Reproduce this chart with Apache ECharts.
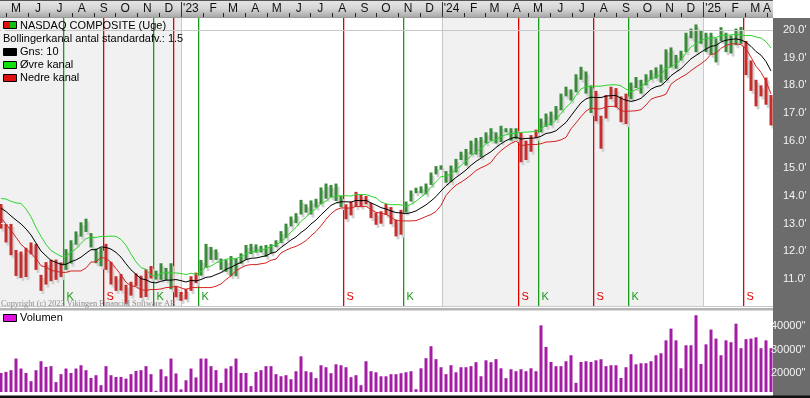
<!DOCTYPE html>
<html><head><meta charset="utf-8">
<script src="https://cdn.jsdelivr.net/npm/echarts@6/dist/echarts.min.js"></script>
<style>html,body{margin:0;padding:0;background:#fff}#c{width:810px;height:398px}</style>
</head><body><div id="c"></div><script>
// ---------------- DATA ----------------
const firstWeek = '2022-04-22';   // week ending date of first bar
const highs = [13.71,12.99,12.99,12.05,11.99,12.13,12.32,12.27,11.15,11.61,
11.70,11.70,11.60,12.08,12.40,12.72,13.05,13.18,12.66,12.10,
12.13,12.27,11.62,11.10,11.18,10.79,10.90,11.20,11.12,11.35,
11.47,11.30,11.57,11.40,11.57,10.75,10.53,10.65,11.10,11.23,
11.69,12.27,12.16,12.07,11.74,11.70,11.83,11.75,11.93,12.23,
12.27,12.25,12.20,12.23,12.26,12.40,12.73,13.00,13.26,13.38,
13.86,13.70,13.84,13.90,14.31,14.45,14.40,14.45,14.00,13.70,
13.80,14.15,14.05,14.00,13.75,13.40,13.45,13.71,13.60,13.15,
13.50,13.80,14.20,14.30,14.35,14.45,14.85,15.08,15.11,14.90,
15.10,15.34,15.60,15.70,16.00,16.10,16.13,16.30,16.45,16.30,
16.54,16.45,16.45,16.45,16.30,16.00,16.20,16.40,16.80,16.98,
17.05,17.25,17.70,17.95,17.85,18.40,18.67,18.50,18.00,17.80,
16.90,17.65,17.95,17.90,17.60,17.70,18.10,18.30,18.20,18.40,
18.55,18.65,18.75,19.30,19.37,19.10,19.25,19.90,20.05,20.20,
20.00,19.90,19.90,19.70,20.10,19.90,19.80,20.05,20.11,19.60,
18.90,18.20,18.00,18.28,17.65];
const lows = [12.82,12.32,11.86,11.11,11.04,11.07,11.89,11.33,10.57,10.80,
10.92,10.97,11.07,11.33,11.56,12.24,12.53,12.70,12.14,11.57,
11.46,11.33,10.80,10.57,10.58,10.09,10.40,10.75,10.32,10.35,
11.02,10.98,10.97,10.95,10.63,10.34,10.21,10.26,10.57,10.85,
11.12,11.40,11.69,11.69,11.33,11.26,11.10,11.10,11.55,11.70,
11.90,11.95,11.96,11.80,11.93,12.15,12.30,12.48,12.90,13.02,
13.33,13.40,13.33,13.58,13.70,13.90,13.95,13.82,13.60,13.16,
13.30,13.60,13.62,13.70,13.20,12.96,13.00,13.31,12.98,12.54,
12.60,13.40,13.80,14.10,14.10,14.06,14.40,14.78,14.95,14.48,
14.50,14.85,15.30,15.10,15.50,15.50,15.40,15.90,16.00,15.90,
15.95,16.30,16.00,16.05,15.22,15.30,15.60,16.10,16.30,16.50,
16.55,16.75,17.10,17.60,17.45,17.75,18.20,17.70,17.00,16.70,
15.71,16.80,17.50,17.20,16.67,16.60,17.50,17.90,17.70,18.00,
18.20,18.25,18.10,18.20,18.65,18.60,18.90,19.20,19.70,19.20,
19.50,19.20,19.10,18.83,19.60,19.20,19.15,19.45,19.50,18.37,
17.80,17.24,17.60,17.30,16.55];
const volumes = [20100,20550,21300,26250,22000,20100,16600,21300,25100,22700,
23000,16200,19600,22000,20100,22000,23400,21300,18000,19150,
14900,23000,19150,18400,18400,17700,19600,21000,21300,23000,
19600,12500,21700,18700,26250,19900,13100,17000,22000,18200,
26250,26250,23000,21300,15900,22000,23000,26250,20100,20100,
14500,20550,21300,23000,23000,19600,18700,19150,17450,20850,
27200,20850,20400,17900,23400,22550,20000,23800,23400,22550,
18300,19150,14900,25100,20850,20400,18700,18700,19600,19600,
20000,20400,20850,13200,22100,26400,31500,26000,22550,19600,
23400,20400,22550,22550,23000,24700,18700,25500,24700,26000,
22100,17900,21700,20850,21700,20850,22100,20850,40400,31200,
24800,23000,23000,25100,27650,15900,24800,25100,24800,25500,
25950,23000,23400,23400,18000,22550,28100,23800,24250,24250,
25100,27650,28500,34000,39000,34000,22100,31900,31900,44700,
23950,32300,38600,34750,27650,34000,33200,41100,30650,34500,
34750,35300,30650,34000,30650];
const ma10 = [13.56,13.44,13.28,13.13,12.99,12.81,12.59,12.30,12.01,11.84,
11.67,11.60,11.53,11.53,11.63,11.69,11.79,11.93,12.06,12.06,
12.16,12.14,12.08,11.96,11.79,11.55,11.33,11.17,11.01,10.97,
10.88,10.86,10.92,10.96,10.96,10.98,10.94,10.89,10.95,10.93,
10.98,11.06,11.08,11.16,11.23,11.35,11.42,11.52,11.60,11.70,
11.75,11.76,11.80,11.84,11.93,11.98,12.14,12.27,12.41,12.52,
12.68,12.81,12.99,13.13,13.32,13.49,13.66,13.75,13.79,13.79,
13.78,13.84,13.83,13.84,13.75,13.67,13.58,13.53,13.46,13.40,
13.39,13.36,13.40,13.46,13.57,13.68,13.82,13.98,14.18,14.37,
14.52,14.67,14.80,14.94,15.11,15.25,15.37,15.49,15.60,15.75,
15.89,16.00,16.08,16.13,16.06,16.08,16.09,16.10,16.16,16.26,
16.29,16.36,16.51,16.66,16.90,17.14,17.37,17.51,17.57,17.56,
17.56,17.61,17.63,17.63,17.53,17.46,17.42,17.46,17.53,17.69,
17.86,17.95,17.99,18.15,18.35,18.48,18.60,18.78,18.96,19.08,
19.20,19.31,19.41,19.44,19.57,19.63,19.66,19.68,19.64,19.56,
19.41,19.22,19.09,18.86,18.52];
const upperBand = [13.91,13.89,13.81,13.75,13.73,13.53,13.25,12.86,12.54,12.25,
12.03,11.92,11.82,11.82,11.97,12.09,12.29,12.46,12.51,12.50,
12.54,12.54,12.55,12.54,12.43,12.22,11.90,11.62,11.41,11.35,
11.14,11.10,11.20,11.23,11.22,11.22,11.20,11.16,11.21,11.17,
11.27,11.43,11.47,11.58,11.64,11.72,11.73,11.74,11.80,11.91,
11.98,12.00,12.05,12.10,12.18,12.24,12.34,12.50,12.70,12.86,
13.09,13.23,13.42,13.54,13.72,13.82,13.96,14.00,14.01,14.01,
14.00,14.05,14.05,14.05,13.99,13.93,13.78,13.72,13.68,13.69,
13.68,13.62,13.70,13.81,13.96,14.10,14.31,14.52,14.70,14.72,
14.81,14.95,15.10,15.26,15.46,15.58,15.72,15.88,15.99,16.04,
16.14,16.22,16.26,16.27,16.30,16.31,16.32,16.34,16.43,16.57,
16.62,16.74,16.99,17.20,17.37,17.64,17.87,17.95,17.96,17.97,
17.97,18.00,18.02,18.02,17.98,17.86,17.77,17.84,17.94,18.09,
18.22,18.33,18.37,18.62,18.66,18.78,18.91,19.17,19.39,19.50,
19.62,19.70,19.70,19.73,19.80,19.82,19.82,19.86,19.81,19.80,
19.80,19.75,19.71,19.58,19.35];
const lowerBand = [13.21,12.99,12.75,12.51,12.25,12.09,11.93,11.74,11.48,11.43,
11.31,11.28,11.24,11.24,11.29,11.29,11.29,11.40,11.61,11.62,
11.78,11.74,11.61,11.38,11.15,10.88,10.76,10.72,10.61,10.59,
10.62,10.62,10.64,10.69,10.70,10.74,10.68,10.62,10.69,10.69,
10.69,10.69,10.69,10.74,10.82,10.98,11.11,11.30,11.40,11.49,
11.52,11.52,11.55,11.58,11.68,11.72,11.94,12.04,12.12,12.18,
12.27,12.39,12.56,12.72,12.92,13.16,13.36,13.50,13.57,13.57,
13.56,13.63,13.61,13.63,13.51,13.41,13.38,13.34,13.24,13.11,
13.10,13.10,13.10,13.11,13.18,13.26,13.33,13.44,13.66,14.02,
14.23,14.39,14.50,14.62,14.76,14.92,15.02,15.10,15.21,15.46,
15.64,15.78,15.90,15.99,15.82,15.85,15.86,15.86,15.89,15.95,
15.96,15.98,16.03,16.12,16.43,16.64,16.87,17.07,17.18,17.15,
17.15,17.22,17.24,17.24,17.08,17.06,17.07,17.08,17.12,17.29,
17.50,17.57,17.61,17.68,18.04,18.18,18.29,18.39,18.53,18.66,
18.78,18.92,19.12,19.15,19.34,19.44,19.50,19.50,19.47,19.32,
19.02,18.69,18.47,18.14,17.69];
const signalWeeks = [13,21,31,35,40,69,81,104,108,119,126,149];
const signalTypes = ['K','S','K','S','K','S','K','S','K','S','K','S'];
const monthLabels = ['M','J','J','A','S','O','N','D',"'23",'F','M','A','M','J','J','A','S','O','N','D',"'24",'F','M','A','M','J','J','A','S','O','N','D',"'25",'F','M','A'];
const firstMonth = [2022, 4];     // May 2022 (0-based month)
const yearStarts = ['2023-01-01','2024-01-01','2025-01-01'];
const priceTicks = [11,12,13,14,15,16,17,18,19,20];
const volumeTicks = [20000,30000,40000];
const legendItems = ['NASDAQ COMPOSITE (Uge)','Bollingerkanal antal standardafv.: 1.5','Gns: 10','Øvre kanal','Nedre kanal'];
const volumeLegend = 'Volumen';
const copyright = 'Copyright (c) 2023 Vikingen Financial Software AB';

// ---------------- STYLE ----------------
const FONT = '"Liberation Sans", Arial, sans-serif';
const GREEN_BAR = '#3b8a3b', RED_BAR = '#c42e2e', SHADOW = '#d2d2d2';
const K_COL = '#1a9a1a', S_COL = '#e00000';
const VOL_BASE = 12000;
const PLOT_R = 773;

const chart = echarts.init(document.getElementById('c'), null, {renderer:'canvas'});
const DAY = 864e5, t0 = Date.parse(firstWeek);
function dateIdx(ms){ return (ms - t0)/(7*DAY) - 0.3; }

let state = 'S', si = 0;
const priceData = highs.map((h,i)=>{
  while (si < signalWeeks.length && signalWeeks[si] <= i) { state = signalTypes[si]; si++; }
  return [i, h, lows[i], state === 'K' ? 1 : 0];
});
const volData = volumes.map((v,i)=>[i, v]);
const yearIdx = yearStarts.map(d => dateIdx(Date.parse(d)));
const bandData = [[-2, yearIdx[0]], [yearIdx[1], yearIdx[2]]];

const option = {
  animation: false,
  grid: [
    {left:0, top:18.93, width:PLOT_R, height:287.74},
    {left:0, top:311, width:PLOT_R, height:85.7}
  ],
  xAxis: [
    {type:'value', gridIndex:0, min:-0.2, max:154.4, show:false},
    {type:'value', gridIndex:1, min:-0.2, max:154.4, show:false}
  ],
  yAxis: [
    {type:'value', gridIndex:0, position:'right', min:10, max:20.4, interval:1, z:10,
     splitLine:{show:false}, axisLine:{show:false},
     axisTick:{show:true, length:4, lineStyle:{color:'#f0f0f0'}, customValues: priceTicks},
     axisLabel:{customValues: priceTicks,
       formatter: v => v.toFixed(1) + "'", color:'#f4f4f4', fontSize:11, fontFamily:FONT, margin:10}},
    {type:'value', gridIndex:1, position:'right', min:10000, max:46500, interval:10000, z:10,
     splitLine:{show:false}, axisLine:{show:false}, axisTick:{show:false},
     axisLabel:{customValues: volumeTicks,
       formatter: v => v + '"', color:'#f4f4f4', fontSize:11, fontFamily:FONT, margin:-2}}
  ],
  series: [
    {
      type:'custom', xAxisIndex:0, yAxisIndex:0, z:0, silent:true, data: bandData,
      renderItem(params, api){
        const a = api.coord([api.value(0), 15])[0], b = api.coord([api.value(1), 15])[0];
        const cs = params.coordSys;
        return {type:'rect', shape:{x:a, y:18, width:b-a, height:cs.y+cs.height-18}, style:{fill:'#f1f1f1'}};
      }
    },
    {
      type:'line', xAxisIndex:0, yAxisIndex:0, data:[], z:1,
      markLine:{silent:true, symbol:'none', label:{show:false}, lineStyle:{color:'#c8c8c8', width:1, type:'solid'},
        data:[{yAxis:20}]}
    },
    {
      type:'custom', xAxisIndex:0, yAxisIndex:0, z:3, silent:true, data: priceData,
      renderItem(params, api){
        const i = api.value(0);
        const hi = api.coord([i, api.value(1)]), lo = api.coord([i, api.value(2)]);
        const x = hi[0] - 1.5, h = Math.max(1, lo[1]-hi[1]);
        return {type:'group', children:[
          {type:'rect', shape:{x:x+2, y:hi[1]+3, width:3, height:h}, style:{fill:SHADOW}},
          {type:'rect', shape:{x:x, y:hi[1], width:3, height:h}, style:{fill: api.value(3) ? GREEN_BAR : RED_BAR}}
        ]};
      }
    },
    {type:'line', name:'ma', xAxisIndex:0, yAxisIndex:0, z:4, symbol:'none', silent:true,
     data: ma10.map((v,i)=>[i,v]), lineStyle:{color:'#000', width:1}},
    {type:'line', name:'up', xAxisIndex:0, yAxisIndex:0, z:4, symbol:'none', silent:true,
     data: upperBand.map((v,i)=>[i,v]), lineStyle:{color:'#2ed42e', width:1}},
    {type:'line', name:'lo', xAxisIndex:0, yAxisIndex:0, z:4, symbol:'none', silent:true,
     data: lowerBand.map((v,i)=>[i,v]), lineStyle:{color:'#d42222', width:1}},
    {
      type:'custom', xAxisIndex:1, yAxisIndex:1, z:3, silent:true, data: volData,
      renderItem(params, api){
        const i = api.value(0);
        const top = api.coord([i, api.value(1)]), base = api.coord([i, VOL_BASE]);
        return {type:'rect', shape:{x:top[0]-1.5, y:top[1], width:3, height:base[1]-top[1]}, style:{fill:'#a41ca4'}};
      }
    }
  ]
};
chart.setOption(option);

// --------------- graphic overlay ---------------
const g = [];
const px = v => chart.convertToPixel({xAxisIndex:0}, v);
yearIdx.forEach(v => {
  const x = Math.round(px(v)) + 0.5;
  g.push({type:'line', z:1, silent:true, shape:{x1:x, y1:18, x2:x, y2:306}, style:{stroke:'#c8c8c8', lineWidth:1}});
});
signalWeeks.forEach((w,k) => {
  const x = Math.round(px(w - 0.6));
  const isK = signalTypes[k] === 'K';
  const col = isK ? K_COL : S_COL;
  g.push({type:'rect', z:2, silent:true, shape:{x:x, y:18, width:1.3, height:288}, style:{fill:col}});
  g.push({type:'text', z:2, silent:true, x:x+3.5, y:297, style:{text:signalTypes[k], fill:col, font:'11px '+FONT, verticalAlign:'middle', align:'left'}});
});
g.push({type:'rect', z:5, shape:{x:PLOT_R, y:18, width:810-PLOT_R, height:380}, style:{fill:'#6c6c6c'}});
g.push({type:'rect', z:6, shape:{x:0, y:0, width:PLOT_R, height:17},
  style:{fill:new echarts.graphic.LinearGradient(0,0,0,1,[{offset:0,color:'#e6e6e6'},{offset:0.5,color:'#d6d6d6'},{offset:1,color:'#a9a9a9'}])}});
g.push({type:'line', z:7, shape:{x1:0,y1:0.5,x2:PLOT_R,y2:0.5}, style:{stroke:'#555',lineWidth:1}});
g.push({type:'line', z:7, shape:{x1:0,y1:17.5,x2:PLOT_R,y2:17.5}, style:{stroke:'#9a9a9a',lineWidth:1}});
for (let k=0;k<monthLabels.length;k++){
  const y = firstMonth[0] + Math.floor((firstMonth[1]+k)/12), m = (firstMonth[1]+k)%12;
  const xs = px(dateIdx(Date.UTC(y,m,1)));
  const xm = Math.min(px(dateIdx(Date.UTC(y,m,15))), PLOT_R-6);
  const isYear = m === 0;
  if (xs > 0 && xs < PLOT_R){
    const xx = Math.round(xs)+0.5;
    g.push({type:'line', z:7, shape:{x1:xx, y1:isYear?2:13, x2:xx, y2:17}, style:{stroke:isYear?'#333':'#222', lineWidth:1}});
  }
  g.push({type:'text', z:8, x:xm, y:8.5, style:{text:monthLabels[k], fill:'#111', font:'12px '+FONT, align:'center', verticalAlign:'middle'}});
}
g.push({type:'line', z:7, shape:{x1:0,y1:306.5,x2:PLOT_R,y2:306.5}, style:{stroke:'#c8c8c8',lineWidth:1}});
g.push({type:'rect', z:7, shape:{x:0,y:308,width:PLOT_R,height:2.5}, style:{fill:'#b4b4b4'}});
g.push({type:'rect', z:7, shape:{x:0,y:395.5,width:810,height:2.5}, style:{fill:'#111'}});
const icon = (x,y,fill) => ({type:'rect', z:20, shape:{x:x+0.5,y:y+0.5,width:13,height:7}, style:{fill, stroke:'#000', lineWidth:1}});
g.push({type:'rect', z:20, shape:{x:3.5,y:21.5,width:6.5,height:7}, style:{fill:'#e01010'}});
g.push({type:'rect', z:20, shape:{x:10,y:21.5,width:6.5,height:7}, style:{fill:'#10c010'}});
g.push({type:'rect', z:21, shape:{x:3.5,y:21.5,width:13,height:7}, style:{fill:null, stroke:'#000', lineWidth:1}});
g.push(icon(3,48,'#000'));
g.push(icon(3,61,'#10e010'));
g.push(icon(3,74,'#e01010'));
const lt = (x,y,t) => ({type:'text', z:20, x, y, style:{text:t, fill:'#000', font:'11px '+FONT, verticalAlign:'middle'}});
g.push(lt(20,25.5,legendItems[0]));
g.push(lt(3,39,legendItems[1]));
g.push(lt(20,52,legendItems[2]));
g.push(lt(20,65,legendItems[3]));
g.push(lt(20,78,legendItems[4]));
g.push(icon(3,314,'#e010e0'));
g.push(lt(20,318,volumeLegend));
g.push({type:'text', z:20, x:1, y:304, style:{text:copyright, fill:'#8c8c8c', font:'8.3px "Liberation Serif", "Times New Roman", serif', verticalAlign:'middle'}});
chart.setOption({graphic:{elements:g}});
</script></body></html>
